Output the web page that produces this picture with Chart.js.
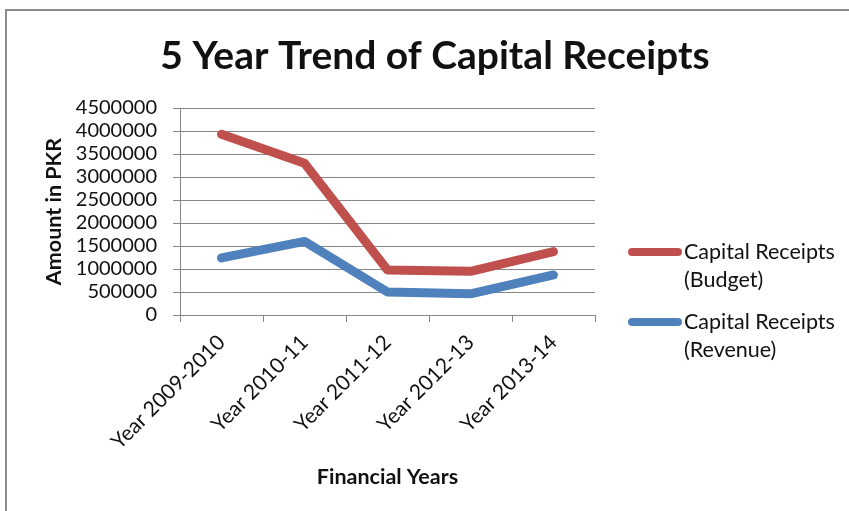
<!DOCTYPE html>
<html>
<head>
<meta charset="utf-8">
<script src="https://cdn.jsdelivr.net/npm/chart.js@4/dist/chart.umd.min.js"></script>
<style>
  html, body { margin: 0; padding: 0; background: #fff; overflow: hidden; }
  #frame { position: absolute; left: 5px; top: 9px; width: 900px; height: 600px;
           border: 2px solid #8c8c8c; box-sizing: border-box; }
  #wrap { position: absolute; left: 0; top: 0; width: 849px; height: 511px; }
</style>
</head>
<body>
<div id="frame"></div>
<div id="wrap"><canvas id="c" width="849" height="511"></canvas></div>
<script>
// Financial years on the category axis
const categories = ['Year 2009-2010', 'Year 2010-11', 'Year 2011-12', 'Year 2012-13', 'Year 2013-14'];

// Capital receipts in PKR
const budgetValues  = [3930000, 3300000, 980000, 950000, 1380000];
const revenueValues = [1240000, 1600000, 500000, 460000, 870000];

// Value axis range
const yMin = 0;
const yMax = 4500000;
const yStep = 500000;

const seriesNames = [['Capital Receipts', '(Budget)'], ['Capital Receipts', '(Revenue)']];
const seriesColors = ['#c0504d', '#4f81bd'];

const FONT = 'Lato, Carlito, Calibri, sans-serif';
const GRID = '#878787';
const TEXT = '#111';

// Chart heading
const headingPlugin = {
  id: 'heading',
  afterDraw(chart) {
    const ctx = chart.ctx;
    ctx.save();
    ctx.font = 'bold 39px ' + FONT;
    ctx.fillStyle = TEXT;
    ctx.textAlign = 'center';
    ctx.textBaseline = 'middle';
    ctx.fillText('5 Year Trend of Capital Receipts', 435, 56);
    ctx.restore();
  }
};

// Legend on the right with two-line entries
const sideLegendPlugin = {
  id: 'sideLegend',
  afterDraw(chart) {
    const ctx = chart.ctx;
    ctx.save();
    const rows = [252, 322];
    chart.data.datasets.forEach((ds, i) => {
      const y = rows[i];
      ctx.strokeStyle = ds.borderColor;
      ctx.lineWidth = 8;
      ctx.lineCap = 'round';
      ctx.beginPath();
      ctx.moveTo(632, y);
      ctx.lineTo(678, y);
      ctx.stroke();
      ctx.font = '21.5px ' + FONT;
      ctx.fillStyle = TEXT;
      ctx.textAlign = 'left';
      ctx.textBaseline = 'middle';
      seriesNames[i].forEach((line, k) => ctx.fillText(line, 684, y + k * 28));
    });
    ctx.restore();
  }
};

new Chart(document.getElementById('c'), {
  type: 'line',
  data: {
    labels: categories,
    datasets: [
      { label: 'Capital Receipts (Budget)', data: budgetValues, borderColor: seriesColors[0],
        backgroundColor: seriesColors[0], borderWidth: 9, pointRadius: 0, tension: 0,
        borderCapStyle: 'round', borderJoinStyle: 'round' },
      { label: 'Capital Receipts (Revenue)', data: revenueValues, borderColor: seriesColors[1],
        backgroundColor: seriesColors[1], borderWidth: 9, pointRadius: 0, tension: 0,
        borderCapStyle: 'round', borderJoinStyle: 'round' }
    ]
  },
  options: {
    responsive: false,
    animation: false,
    layout: { padding: { top: 108, right: 254, bottom: 0, left: 0 } },
    plugins: { legend: { display: false }, tooltip: { enabled: false }, title: { display: false } },
    scales: {
      x: {
        offset: true,
        grid: { display: true, drawOnChartArea: false, drawTicks: true, tickLength: 7, offset: true, color: GRID },
        border: { display: true, color: GRID, width: 1 },
        ticks: { minRotation: 45, maxRotation: 45, autoSkip: false, color: TEXT,
                 font: { family: FONT, size: 21 }, padding: 8 },
        title: { display: true, text: 'Financial Years', color: TEXT,
                 font: { family: FONT, size: 21.5, weight: 'bold' }, padding: { top: 0, bottom: 21 } },
        afterFit(scale) { scale.height = 196; }
      },
      y: {
        min: yMin, max: yMax,
        grid: { color: GRID, tickLength: 7, drawTicks: true },
        border: { display: true, color: GRID, width: 1 },
        ticks: { stepSize: yStep, maxTicksLimit: 11, autoSkip: false, color: TEXT,
                 font: { family: FONT, size: 20, lineHeight: 1 }, padding: 16,
                 callback: (v) => String(v) },
        title: { display: true, text: 'Amount in PKR', color: TEXT,
                 font: { family: FONT, size: 21.5, weight: 'bold' }, padding: { top: 41, bottom: 0 } },
        afterFit(scale) { scale.width = 180; }
      }
    }
  },
  plugins: [headingPlugin, sideLegendPlugin]
});
</script>
</body>
</html>
